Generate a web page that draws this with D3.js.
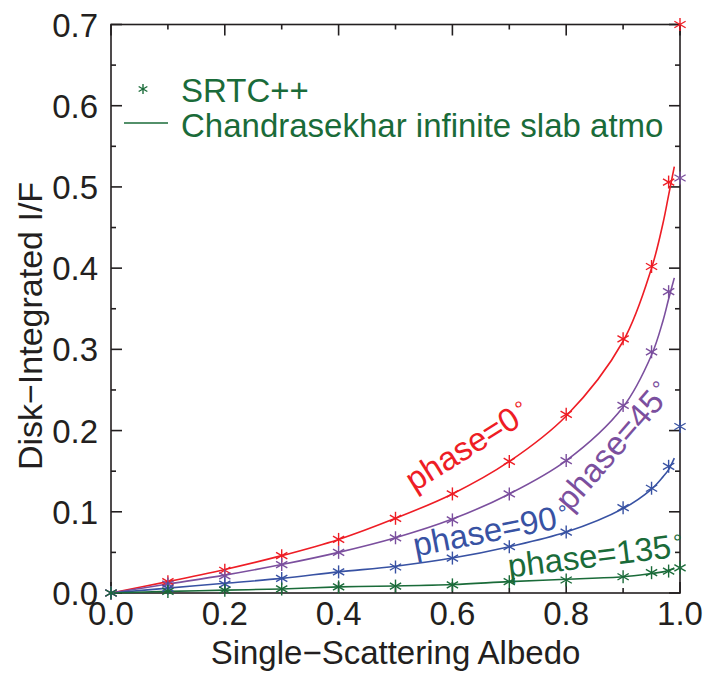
<!DOCTYPE html>
<html>
<head>
<meta charset="utf-8">
<script src="https://cdn.jsdelivr.net/npm/d3@7"></script>
<style>
  body { margin: 0; background: #fff; }
  svg { display: block; font-family: "Liberation Sans", Arial, sans-serif; }
</style>
</head>
<body>
<svg width="723" height="674"></svg>
<script>
// SRTC++ points (stars)
const starAlbedo = [0, 0.1, 0.2, 0.3, 0.4, 0.5, 0.6, 0.7, 0.8, 0.9, 0.95, 0.98, 1.0];
const starPhase0 = [0, 0.014, 0.028, 0.046, 0.066, 0.092, 0.122, 0.162, 0.220, 0.313, 0.402, 0.506, 0.700];
const starPhase45 = [0, 0.011, 0.021, 0.035, 0.050, 0.068, 0.090, 0.122, 0.163, 0.231, 0.297, 0.371, 0.511];
const starPhase90 = [0, 0.006, 0.011, 0.018, 0.026, 0.032, 0.043, 0.057, 0.075, 0.105, 0.129, 0.156, 0.205];
const starPhase135 = [0, 0.002, 0.0035, 0.005, 0.0075, 0.0085, 0.010, 0.014, 0.016, 0.020, 0.025, 0.027, 0.031];

// Chandrasekhar curves (lines)
const lineAlbedo = [0, 0.1, 0.2, 0.3, 0.4, 0.5, 0.6, 0.7, 0.8, 0.9, 0.95, 0.97, 0.98, 0.99];
const linePhase0 = [0, 0.014, 0.029, 0.046, 0.066, 0.092, 0.122, 0.162, 0.218, 0.310, 0.400, 0.455, 0.490, 0.525];
const linePhase45 = [0, 0.011, 0.022, 0.035, 0.050, 0.068, 0.091, 0.122, 0.163, 0.229, 0.293, 0.335, 0.362, 0.388];
const linePhase90 = [0, 0.006, 0.012, 0.018, 0.026, 0.033, 0.043, 0.057, 0.075, 0.104, 0.128, 0.143, 0.152, 0.166];
const linePhase135 = [0, 0.002, 0.0035, 0.005, 0.0075, 0.0087, 0.0105, 0.014, 0.017, 0.020, 0.024, 0.026, 0.028, 0.030];

const phaseNames = ['phase=0', 'phase=45', 'phase=90', 'phase=135'];
const phaseColors = ['#ee1d25', '#7b4f9e', '#3852a3', '#1a6b39'];

const xTicks = [0, 0.2, 0.4, 0.6, 0.8, 1.0];
const yTicks = [0, 0.1, 0.2, 0.3, 0.4, 0.5, 0.6, 0.7];

const SVG = d3.select('svg');
const LEFT = 111, RIGHT = 680, TOP = 24.5, BOTTOM = 593;
const FONT = 33;

const X_SCALE = d3.scaleLinear().domain([0, 1]).range([LEFT, RIGHT]);
const Y_SCALE = d3.scaleLinear().domain([0, 0.7]).range([BOTTOM, TOP]);

// frame
SVG.append('rect')
  .attr('x', LEFT).attr('y', TOP)
  .attr('width', RIGHT - LEFT).attr('height', BOTTOM - TOP)
  .style('fill', 'none').style('stroke', '#231f20').style('stroke-width', 1.6);

// ticks on four sides, pointing inward
const tickG = SVG.append('g').style('stroke', '#231f20').style('stroke-width', 1.6);
for (let i = 0; i <= 10; i++) {
  const v = i / 10;
  const len = i % 2 === 0 ? 11 : 5;
  const x = X_SCALE(v);
  tickG.append('line').attr('x1', x).attr('x2', x).attr('y1', BOTTOM).attr('y2', BOTTOM - len);
  tickG.append('line').attr('x1', x).attr('x2', x).attr('y1', TOP).attr('y2', TOP + len);
}
for (let i = 0; i <= 14; i++) {
  const v = i * 0.05;
  const len = i % 2 === 0 ? 11 : 5;
  const y = Y_SCALE(v);
  tickG.append('line').attr('x1', LEFT).attr('x2', LEFT + len).attr('y1', y).attr('y2', y);
  tickG.append('line').attr('x1', RIGHT).attr('x2', RIGHT - len).attr('y1', y).attr('y2', y);
}

// tick labels
SVG.append('g').selectAll('text')
  .data(xTicks)
  .join('text')
  .attr('x', d => X_SCALE(d))
  .attr('y', BOTTOM + 32)
  .attr('text-anchor', 'middle')
  .style('font-size', FONT + 'px')
  .style('fill', '#231f20')
  .text(d => d.toFixed(1));

SVG.append('g').selectAll('text')
  .data(yTicks)
  .join('text')
  .attr('x', LEFT - 13)
  .attr('y', d => Y_SCALE(d) + 12)
  .attr('text-anchor', 'end')
  .style('font-size', FONT + 'px')
  .style('fill', '#231f20')
  .text(d => d.toFixed(1));

// axis titles
SVG.append('text')
  .attr('x', (LEFT + RIGHT) / 2)
  .attr('y', 664)
  .attr('text-anchor', 'middle')
  .style('font-size', FONT + 'px')
  .style('fill', '#231f20')
  .text('Single\u2212Scattering Albedo');

SVG.append('text')
  .attr('transform', 'translate(42,326) rotate(-90)')
  .attr('text-anchor', 'middle')
  .style('font-size', '34px')
  .style('fill', '#231f20')
  .text('Disk\u2212Integrated I/F');

// curves
const LINE = d3.line()
  .x(d => X_SCALE(d[0]))
  .y(d => Y_SCALE(d[1]))
  .curve(d3.curveCatmullRom);

const lineSeries = [linePhase0, linePhase45, linePhase90, linePhase135];
const starSeries = [starPhase0, starPhase45, starPhase90, starPhase135];

// asterisk marker
function star(g, cx, cy, r, color) {
  [90, 30, 150].forEach(a => {
    const dx = r * Math.cos(a * Math.PI / 180);
    const dy = r * Math.sin(a * Math.PI / 180);
    g.append('line')
      .attr('x1', cx - dx).attr('y1', cy - dy)
      .attr('x2', cx + dx).attr('y2', cy + dy)
      .style('stroke', color).style('stroke-width', 1.4);
  });
}

lineSeries.forEach((vals, index) => {
  SVG.append('path')
    .datum(lineAlbedo.map((a, i) => [a, vals[i]]))
    .attr('d', LINE)
    .style('fill', 'none')
    .style('stroke', phaseColors[index])
    .style('stroke-width', 1.6);
});

starSeries.forEach((vals, index) => {
  const g = SVG.append('g').attr('id', `stars${index}`);
  starAlbedo.forEach((a, i) => {
    star(g, X_SCALE(a), Y_SCALE(vals[i]), 6.5, phaseColors[index]);
  });
});

// rotated curve labels
const labelPos = [
  { x: 0.533, y: 0.124, angle: -32 },
  { x: 0.807, y: 0.099, angle: -49 },
  { x: 0.535, y: 0.045, angle: -11 },
  { x: 0.70, y: 0.019, angle: -7 }
];
phaseNames.forEach((name, index) => {
  const p = labelPos[index];
  const t = SVG.append('text')
    .attr('transform', `translate(${X_SCALE(p.x)},${Y_SCALE(p.y)}) rotate(${p.angle})`)
    .style('font-size', '33px')
    .style('fill', phaseColors[index])
    .text(name);
  t.append('tspan')
    .attr('dx', 3)
    .attr('dy', -7)
    .style('font-size', '22px')
    .text('\u00b0');
});

// legend
const LEGEND_COLOR = '#1a6b39';
star(SVG.append('g'), 143, 89, 5, LEGEND_COLOR);
SVG.append('line')
  .attr('x1', 124).attr('x2', 168).attr('y1', 123).attr('y2', 123)
  .style('stroke', LEGEND_COLOR).style('stroke-width', 1.6);
SVG.append('text')
  .attr('x', 181).attr('y', 102)
  .style('font-size', FONT + 'px')
  .style('fill', LEGEND_COLOR)
  .text('SRTC++');
SVG.append('text')
  .attr('x', 181).attr('y', 137)
  .style('font-size', FONT + 'px')
  .style('fill', LEGEND_COLOR)
  .text('Chandrasekhar infinite slab atmo');
</script>
</body>
</html>
